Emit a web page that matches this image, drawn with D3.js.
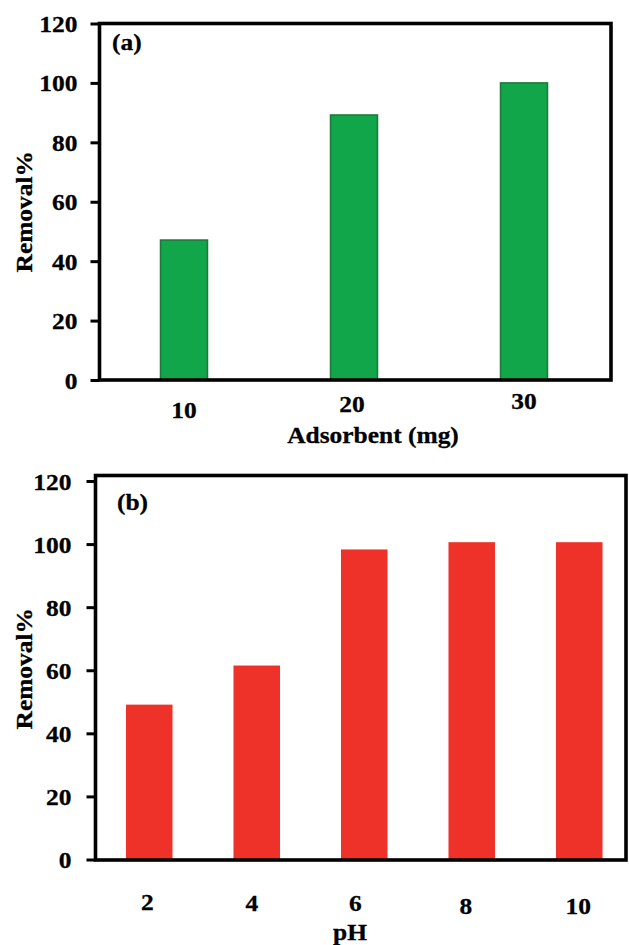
<!DOCTYPE html>
<html>
<head>
<meta charset="utf-8">
<script src="https://cdn.jsdelivr.net/npm/d3@7"></script>
<style>
  html, body { margin: 0; padding: 0; background: #fff; }
  svg { display: block; }
  text { font-family: "Liberation Serif", "Times New Roman", serif; font-weight: bold; fill: #000; stroke: #000; stroke-width: 0.3px; }
</style>
</head>
<body>
<svg id="chart" width="629" height="945"></svg>
<script>
// ---------- data ----------
const adsorbentCats = ["10", "20", "30"];
const adsorbentRemoval = [47.1, 89.2, 100];
const phCats = ["2", "4", "6", "8", "10"];
const phRemoval = [49.1, 61.5, 98.3, 100.6, 100.6];
const yTicks = [0, 20, 40, 60, 80, 100, 120];
const yLabel = "Removal%";
const xLabelA = "Adsorbent (mg)";
const xLabelB = "pH";

// ---------- style ----------
const SX = 1.06;          // slight horizontal text stretch seen in the reference
const FS = 24;
const svg = d3.select("#chart");

function stretchText(sel, tx, ty, rot) {
  sel.attr("x", 0).attr("y", 0).attr("dy", null)
     .attr("transform", `translate(${tx},${ty})` + (rot ? ` rotate(${rot})` : "") + ` scale(${SX},1)`);
}

function panel(cfg) {
  const g = svg.append("g");
  const x = d3.scaleBand().domain(cfg.cats).range(cfg.xRange)
    .paddingInner(cfg.pad).paddingOuter(cfg.pad / 2);
  const y = d3.scaleLinear().domain([0, 120]).range(cfg.yRange);

  // bars
  g.selectAll("rect.bar").data(cfg.values).join("rect")
    .attr("class", "bar")
    .attr("x", (d, i) => x(cfg.cats[i]))
    .attr("width", x.bandwidth())
    .attr("y", d => y(d))
    .attr("height", d => y(0) - y(d))
    .attr("fill", cfg.fill)
    .attr("stroke", cfg.stroke || "none")
    .attr("stroke-width", cfg.stroke ? 1.6 : 0);

  // frame
  g.append("rect")
    .attr("x", cfg.frame[0]).attr("y", cfg.frame[1])
    .attr("width", cfg.frame[2] - cfg.frame[0])
    .attr("height", cfg.frame[3] - cfg.frame[1])
    .attr("fill", "none").attr("stroke", "#000").attr("stroke-width", 3.6);

  // y axis
  const ya = g.append("g").attr("transform", `translate(${cfg.frame[0]},0)`)
    .call(d3.axisLeft(y).tickValues(yTicks).tickSize(9).tickPadding(0));
  ya.select(".domain").remove();
  ya.selectAll(".tick line").attr("stroke", "#000").attr("stroke-width", 3);
  ya.selectAll(".tick text")
    .attr("font-size", FS).attr("text-anchor", "end").attr("fill", "#000")
    .each(function () { stretchText(d3.select(this), -(9 + cfg.yLabelGap), 8); });

  // x axis
  const xa = g.append("g").attr("transform", `translate(0,${y(0)})`)
    .call(d3.axisBottom(x).tickSize(0).tickPadding(0));
  xa.select(".domain").remove();
  xa.selectAll(".tick text")
    .attr("font-size", FS).attr("text-anchor", "middle").attr("fill", "#000")
    .each(function (d, i) {
      stretchText(d3.select(this), cfg.nudgeX[i], cfg.tickBase + cfg.nudgeY[i]);
    });

  // axis titles
  g.append("text").attr("font-size", FS).attr("text-anchor", "middle")
    .text(cfg.xTitle).call(s => stretchText(s, cfg.xTitlePos[0], cfg.xTitlePos[1]));
  g.append("text").attr("font-size", FS).attr("text-anchor", "middle")
    .text(yLabel).call(s => stretchText(s, 32, (cfg.frame[1] + cfg.frame[3]) / 2 + cfg.yTitleShift, -90));

  // panel tag
  g.append("text").attr("font-size", FS).attr("text-anchor", "start")
    .text(cfg.tag).call(s => stretchText(s, cfg.tagPos[0], cfg.tagPos[1]));
}

panel({
  cats: adsorbentCats, values: adsorbentRemoval,
  xRange: [99, 609], pad: 0.724,
  yRange: [380, 23.5],
  frame: [99.5, 23.5, 611, 380],
  fill: "#12A64B", stroke: "#1E7A3B",
  yLabelGap: 13,
  tickBase: 38, nudgeX: [0, -2, 0], nudgeY: [0, -6, -9],
  xTitle: xLabelA, xTitlePos: [373, 443],
  yTitleShift: 10,
  tag: "(a)", tagPos: [112, 50]
});

panel({
  cats: phCats, values: phRemoval,
  xRange: [95.5, 633], pad: 0.567,
  yRange: [859.5, 481],
  frame: [95.5, 475.5, 626, 860],
  fill: "#EE3229", stroke: null,
  yLabelGap: 15,
  tickBase: 51, nudgeX: [-2, -5, -9, -6, -1], nudgeY: [-1, 0, 0, 3, 3],
  xTitle: xLabelB, xTitlePos: [350, 940],
  yTitleShift: 1,
  tag: "(b)", tagPos: [117, 510]
});
</script>
</body>
</html>
